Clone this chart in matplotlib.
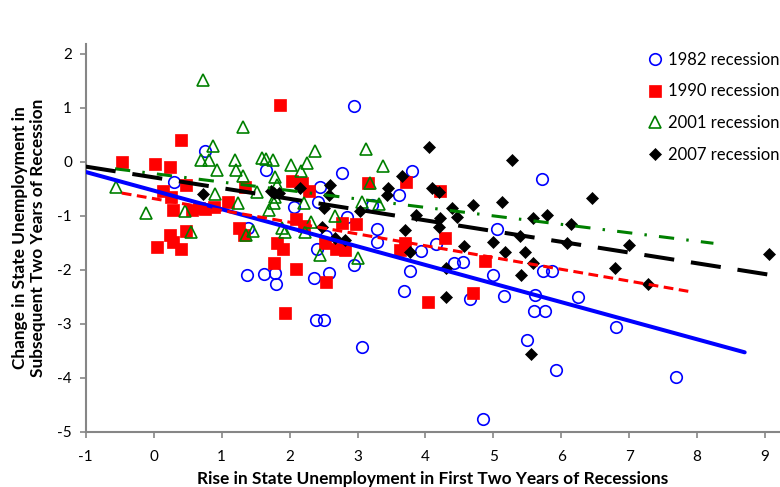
import matplotlib.pyplot as plt

plt.rcParams['font.family'] = ['Lato', 'DejaVu Sans']
plt.rcParams['axes.unicode_minus'] = False

# 1982 recession (blue circles)
x_1982 = [0.76, 0.30, 1.65, 2.06, 2.45, 2.42, 2.77, 2.84, 3.29, 3.29, 2.95, 3.61,
          2.40, 3.80, 5.72, 3.22, 5.06, 4.15, 3.93, 2.54, 2.58, 2.95, 2.39, 2.51,
          3.06, 3.77, 3.69, 4.42, 4.56, 4.65, 4.99, 5.16, 5.62, 5.73, 5.87, 5.60,
          5.76, 5.49, 5.92, 6.25, 6.81, 7.69, 4.85, 1.37, 1.62, 1.78, 1.80, 2.36, 1.39]
y_1982 = [0.20, -0.38, -0.15, -0.83, -0.46, -0.74, -0.21, -1.02, -1.24, -1.48, 1.03, -0.62,
          -1.62, -0.18, -0.32, -0.80, -1.25, -1.52, -1.65, -1.37, -2.06, -1.91, -2.93, -2.94,
          -3.44, -2.03, -2.40, -1.87, -1.86, -2.54, -2.09, -2.48, -2.47, -2.02, -2.02, -2.76,
          -2.76, -3.31, -3.85, -2.51, -3.06, -3.99, -4.77, -2.09, -2.08, -2.06, -2.27, -2.16, -1.23]

# 1990 recession (red squares)
x_1990 = [-0.47, 0.02, 0.24, 0.40, 1.86, 0.14, 0.26, 0.47, 0.28, 0.57, 0.76, 0.89,
          1.09, 1.35, 2.03, 2.18, 2.28, 2.09, 0.05, 0.24, 0.28, 0.40, 0.47, 1.26,
          1.33, 1.81, 1.91, 1.77, 2.09, 1.93, 2.21, 2.53, 2.77, 2.98, 2.52, 2.69,
          2.81, 3.70, 3.62, 4.29, 4.87, 4.70, 4.04, 3.16, 3.72, 4.22, 0.67]
y_1990 = [0.00, -0.05, -0.09, 0.41, 1.05, -0.55, -0.65, -0.43, -0.89, -0.89, -0.88, -0.83,
          -0.74, -0.46, -0.35, -0.40, -0.54, -1.06, -1.57, -1.35, -1.48, -1.62, -1.29, -1.23,
          -1.36, -1.51, -1.62, -1.87, -1.98, -2.80, -1.19, -2.23, -1.13, -1.15, -1.50, -1.62,
          -1.63, -1.51, -1.63, -1.42, -1.84, -2.43, -2.59, -0.40, -0.37, -0.55, -0.86]

# 2001 recession (green triangles)
x_2001 = [0.73, 1.31, 0.87, 0.69, 0.82, 1.20, 0.93, 1.21, 1.31, 1.65, 1.75, 2.02,
          2.26, 2.38, 2.17, 1.79, 1.81, 1.52, 1.77, 1.69, 0.90, 1.24, -0.56, -0.12,
          0.46, 2.21, 3.13, 3.37, 3.18, 3.07, 3.32, 2.67, 0.55, 1.36, 1.46, 1.89,
          1.93, 2.22, 2.31, 2.45, 3.01, 1.78, 1.60]
y_2001 = [1.52, 0.65, 0.29, 0.03, 0.03, 0.04, -0.15, -0.15, -0.26, 0.06, 0.03, -0.06,
          -0.03, 0.20, -0.18, -0.28, -0.43, -0.56, -0.76, -0.89, -0.60, -0.76, -0.46, -0.94,
          -0.92, -0.76, 0.24, -0.07, -0.40, -0.75, -0.79, -1.00, -1.31, -1.35, -1.28, -1.22,
          -1.31, -1.31, -1.11, -1.73, -1.78, -0.65, 0.07]

# 2007 recession (black diamonds)
x_2007 = [0.72, 1.73, 1.77, 1.85, 2.16, 2.60, 2.58, 2.50, 3.04, 3.45, 3.43, 3.66,
          2.47, 2.67, 2.81, 4.05, 5.27, 4.09, 4.20, 4.70, 5.13, 4.39, 3.86, 4.22,
          4.47, 3.70, 4.20, 5.00, 5.39, 5.58, 5.79, 6.15, 6.09, 6.99, 4.57, 6.45,
          5.17, 5.47, 5.59, 5.41, 3.78, 4.30, 4.31, 5.56, 6.79, 7.28, 9.06]
y_2007 = [-0.60, -0.55, -0.58, -0.58, -0.49, -0.43, -0.62, -0.85, -0.92, -0.48, -0.61, -0.26,
          -1.20, -1.42, -1.45, 0.27, 0.04, -0.49, -0.56, -0.80, -0.75, -0.85, -0.99, -1.05,
          -1.02, -1.26, -1.20, -1.49, -1.38, -1.05, -0.99, -1.15, -1.50, -1.54, -1.56, -0.67,
          -1.67, -1.67, -1.88, -2.09, -1.67, -1.97, -2.50, -3.57, -1.97, -2.26, -1.71]

# trend lines, end points
trend_1982_x = [-1.0, 8.7]
trend_1982_y = [-0.19, -3.53]
trend_1990_x = [-0.47, 7.87]
trend_1990_y = [-0.58, -2.40]
trend_2001_x = [-0.57, 8.24]
trend_2001_y = [-0.13, -1.51]
trend_2007_x = [-1.0, 9.1]
trend_2007_y = [-0.09, -2.10]

x_ticks = [-1, 0, 1, 2, 3, 4, 5, 6, 7, 8, 9]
y_ticks = [-5, -4, -3, -2, -1, 0, 1, 2]

blue = '#0000ff'
red = '#ff0000'
green = '#008000'
black = '#000000'
gray = '#868686'

fig = plt.figure(figsize=(7.8, 4.87), dpi=100)
ax = fig.add_axes([0.110, 0.1136, 0.890, 0.797])

ax.plot(x_1982, y_1982, 'o', ms=8.3, mfc='none', mec=blue, mew=1.2,
        linestyle='none', label='1982 recession', zorder=3)
ax.plot(x_1990, y_1990, 's', ms=8.6, mfc=red, mec=red, mew=0.5,
        linestyle='none', label='1990 recession', zorder=3)
ax.plot(x_2001, y_2001, '^', ms=9.0, mfc='none', mec=green, mew=1.2,
        linestyle='none', label='2001 recession', zorder=3)
ax.plot(x_2007, y_2007, 'D', ms=6.4, mfc=black, mec=black, mew=0.5,
        linestyle='none', label='2007 recession', zorder=3)

ax.plot(trend_1982_x, trend_1982_y, color=blue, lw=2.9, solid_capstyle='round', zorder=4)
ax.plot(trend_1990_x, trend_1990_y, color=red, lw=2.2, linestyle=(0, (3.2, 1.8)), zorder=4)
ax.plot(trend_2001_x, trend_2001_y, color=green, lw=2.2,
        linestyle=(0, (5.0, 4.0, 0.8, 4.0)), zorder=4)
ax.plot(trend_2007_x, trend_2007_y, color=black, lw=2.9, linestyle=(0, (7.5, 4.2)), zorder=4)

ax.set_xlim(-1, 9.22)
ax.set_ylim(-5, 2.19)
ax.set_xticks(x_ticks)
ax.set_yticks(y_ticks)
ax.set_xticklabels([str(t) for t in x_ticks])
ax.set_yticklabels([str(t) for t in y_ticks])

for side in ['top', 'right']:
    ax.spines[side].set_visible(False)
for side in ['left', 'bottom']:
    ax.spines[side].set_color(gray)
    ax.spines[side].set_linewidth(1.5)
ax.tick_params(direction='out', length=4, width=1.2, color=gray,
               labelsize=11, labelcolor='black', pad=6)
ax.tick_params(axis='x', pad=9.5)

ax.set_xlabel('Rise in State Unemployment in First Two Years of Recessions',
              fontsize=12.4, fontweight='bold', labelpad=5)
ax.set_ylabel('Change in State Unemployment in\nSubsequent Two Years of Recession',
              fontsize=12.4, fontweight='bold', labelpad=8, linespacing=1.15)

ax.legend(loc='upper left', bbox_to_anchor=(0.831, 0.894), bbox_transform=fig.transFigure,
          frameon=False, fontsize=12, handlelength=0.8, handletextpad=0.4,
          labelspacing=0.95, borderaxespad=0, borderpad=0)

fig.savefig('out.png', dpi=100)
